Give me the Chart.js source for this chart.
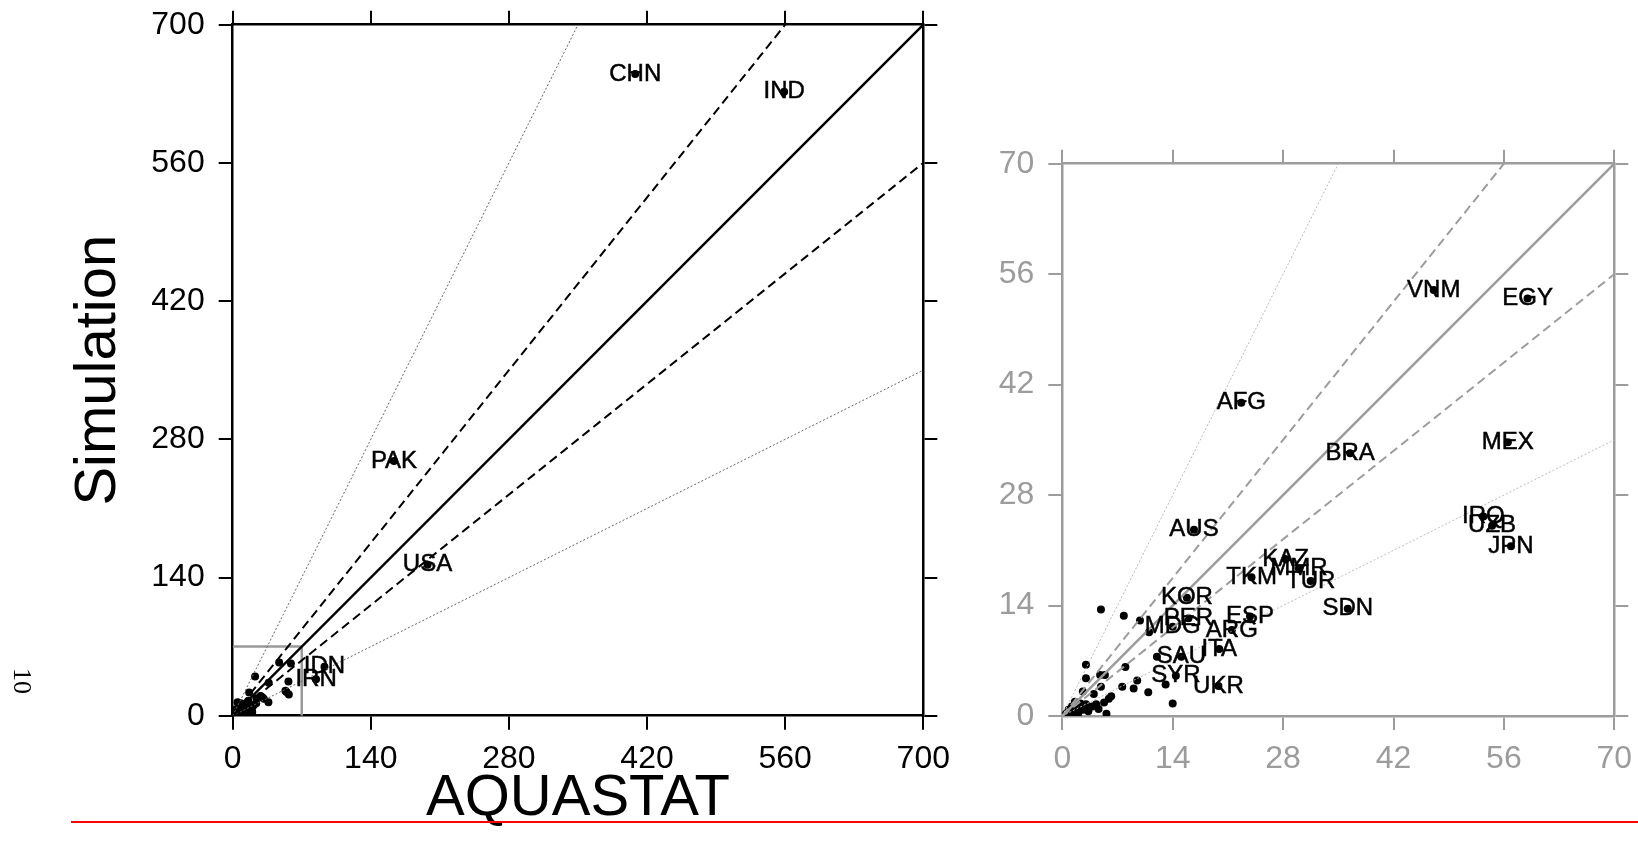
<!DOCTYPE html>
<html>
<head>
<meta charset="utf-8">
<script src="https://cdn.jsdelivr.net/npm/chart.js@4.4.1/dist/chart.umd.min.js"></script>
<style>
html,body{margin:0;padding:0;background:#fff;width:1638px;height:851px;overflow:hidden;position:relative;}
#c1{position:absolute;left:0;top:0;}
#c2{position:absolute;left:960px;top:0;}
#pg{position:absolute;left:22px;top:681px;transform:translate(-50%,-50%) rotate(90deg);font-family:"Liberation Serif","Times New Roman",serif;font-size:26px;color:#000;line-height:1;}
#redline{position:absolute;left:71px;top:821px;width:1567px;height:2px;background:#ff0000;}
</style>
</head>
<body>
<canvas id="c1" width="960" height="851"></canvas>
<canvas id="c2" width="678" height="851"></canvas>
<div id="pg">10</div>
<div id="redline"></div>
<script>
// ---------------- DATA ----------------
const codes = ['CHN','IND','PAK','USA','IDN','IRN','VNM','EGY','AFG','BRA','MEX','IRQ','UZB','JPN','AUS','KAZ','MMR','TKM','TUR','KOR','SDN','PER','ESP','MDG','ARG','ITA','SAU','SYR','UKR',
  '','','','','','','','','','','','','','','','','','','','','','','','','','','','','','','','','','','','','',''];
const aquastat = [408,559,163.5,197.5,93,84.5,47.1,59.0,22.7,36.5,56.5,53.4,54.5,56.9,16.7,28.3,30.0,24.0,31.5,15.8,36.2,16.0,23.8,14.0,21.5,19.9,15.1,14.4,19.8,
  4.9,7.8,9.85,11.0,12.0,13.1,14.0,3.0,8.0,3.0,4.8,5.4,9.5,7.6,9.05,10.9,2.6,4.9,4.0,5.9,6.2,5.3,4.6,5.6,
  0.5,0.8,1.0,1.2,1.5,1.8,2.0,2.3,2.6,3.0,3.3,3.8,0.3,1.6,4.3];
const simulation = [650,632,258,153,49.5,37,54.0,52.9,39.7,33.3,34.7,25.3,24.1,21.5,23.6,19.9,18.7,17.6,17.1,15.0,13.6,12.4,12.6,11.3,10.9,8.5,7.5,5.1,3.8,
  13.5,12.7,12.1,10.6,7.5,4.0,1.6,6.5,6.2,4.8,5.2,5.2,4.5,3.7,3.5,3.0,3.1,3.7,2.8,2.2,2.5,1.7,0.9,0.3,
  0.3,0.8,0.2,1.2,0.5,1.0,0.3,1.6,0.8,1.5,0.6,1.2,0.1,1.8,1.5];
const leftLabeled = ['CHN','IND','PAK','USA','IDN','IRN'];
const rightLabeled = ['VNM','EGY','AFG','BRA','MEX','IRQ','UZB','JPN','AUS','KAZ','MMR','TKM','TUR','KOR','SDN','PER','ESP','MDG','ARG','ITA','SAU','SYR','UKR'];
const leftTicks = [0,140,280,420,560,700];
const rightTicks = [0,14,28,42,56,70];
// reference lines (end points, start at origin): ratio 2, 1.25, 1, 0.8, 0.5
const leftRefEnds = [[350,700],[560,700],[700,700],[700,560],[700,350]];
const rightRefEnds = [[35,70],[56,70],[70,70],[70,56],[70,35]];
const zoomBox = [[0,70],[70,70],[70,0]];

// ---------------- HELPERS ----------------
const SANS = '"Liberation Sans", Arial, Helvetica, sans-serif';
const points = aquastat.map((v,i)=>({x:v, y:simulation[i]}));

function labelPlugin(show){
  return {
    id:'ptLabels',
    afterDatasetsDraw(chart){
      const {ctx, chartArea, scales} = chart;
      const xs = scales.x, ys = scales.y;
      ctx.save();
      ctx.beginPath();
      ctx.rect(chartArea.left, chartArea.top, chartArea.right-chartArea.left, chartArea.bottom-chartArea.top);
      ctx.clip();
      ctx.font = '24px ' + SANS;
      ctx.fillStyle = '#000';
      ctx.strokeStyle = '#000';
      ctx.lineWidth = 0.5;
      ctx.textAlign = 'center';
      ctx.textBaseline = 'middle';
      codes.forEach((c,i)=>{
        if (c && show.includes(c)) {
          const px = xs.getPixelForValue(aquastat[i]), py = ys.getPixelForValue(simulation[i]);
          ctx.fillText(c, px, py);
          ctx.strokeText(c, px, py);
        }
      });
      ctx.restore();
    }
  };
}

function refDatasets(ends, styles){
  return ends.map((e,i)=>Object.assign({
    type:'scatter', showLine:true, data:[{x:0,y:0},{x:e[0],y:e[1]}],
    pointRadius:0, fill:false, tension:0
  }, styles[i]));
}

function axis(pos, max, step, ticksArr, color, labels, size, extra){
  const a = {
    type:'linear', position:pos, min:0, max:max,
    afterBuildTicks: s => { s.ticks = ticksArr.map(v=>({value:v})); },
    ticks:{display:labels, color:color, font:{family:SANS, size:32}, padding: (pos==='bottom'||pos==='top')?10:14, maxRotation:0, autoSkip:false, stepSize:step},
    grid:{drawOnChartArea:false, drawTicks:true, tickLength:14, color:color, lineWidth:2},
    border:{display:true, color:color, width:2.5},
    afterFit: s => {
      if (s.isHorizontal()) s.height = size; else s.width = size;
      s.paddingTop = 0; s.paddingBottom = 0; s.paddingLeft = 0; s.paddingRight = 0;
    }
  };
  return Object.assign(a, extra||{});
}

// ---------------- LEFT CHART ----------------
const leftStyles = [
  {borderColor:'#666', borderWidth:1, borderDash:[2,2]},
  {borderColor:'#000', borderWidth:2, borderDash:[9,5]},
  {borderColor:'#000', borderWidth:2.5},
  {borderColor:'#000', borderWidth:2, borderDash:[9,5]},
  {borderColor:'#666', borderWidth:1, borderDash:[2,2]}
];
new Chart(document.getElementById('c1'), {
  type:'scatter',
  data:{datasets:[
    ...refDatasets(leftRefEnds, leftStyles),
    {type:'scatter', showLine:true, data:zoomBox.map(p=>({x:p[0],y:p[1]})), borderColor:'#999', borderWidth:2.5, pointRadius:0, fill:false},
    {type:'scatter', data:points, pointRadius:4, pointBackgroundColor:'#000', pointBorderWidth:0, showLine:false}
  ]},
  options:{
    responsive:false, animation:false, events:[],
    layout:{padding:0},
    plugins:{legend:{display:false}, tooltip:{enabled:false}},
    scales:{
      x: axis('bottom',700,140,leftTicks,'#000',true,135.3,{title:{display:true,text:'AQUASTAT',color:'#000',font:{family:SANS,size:58},padding:{top:0,bottom:17}}}),
      y: axis('left',700,140,leftTicks,'#000',true,232.7,{title:{display:true,text:'Simulation',color:'#000',font:{family:SANS,size:58},padding:{top:64,bottom:0}}}),
      x2: axis('top',700,140,leftTicks,'#000',false,24.7),
      y2: axis('right',700,140,leftTicks,'#000',false,36.7)
    }
  },
  plugins:[labelPlugin(leftLabeled)]
});

// ---------------- RIGHT CHART ----------------
const G = '#9c9c9c';
const rightStyles = [
  {borderColor:'#bbb', borderWidth:1, borderDash:[2,2]},
  {borderColor:G, borderWidth:2, borderDash:[9,5]},
  {borderColor:G, borderWidth:2.5},
  {borderColor:G, borderWidth:2, borderDash:[9,5]},
  {borderColor:'#bbb', borderWidth:1, borderDash:[2,2]}
];
new Chart(document.getElementById('c2'), {
  type:'scatter',
  data:{datasets:[
    ...refDatasets(rightRefEnds, rightStyles),
    {type:'scatter', data:points, pointRadius:4, pointBackgroundColor:'#000', pointBorderWidth:0, showLine:false}
  ]},
  options:{
    responsive:false, animation:false, events:[],
    layout:{padding:0},
    plugins:{legend:{display:false}, tooltip:{enabled:false}},
    scales:{
      x: axis('bottom',70,14,rightTicks,G,true,135),
      y: axis('left',70,14,rightTicks,G,true,102.3),
      x2: axis('top',70,14,rightTicks,G,false,163.7),
      y2: axis('right',70,14,rightTicks,G,false,23.7)
    }
  },
  plugins:[labelPlugin(rightLabeled)]
});
</script>
</body>
</html>
